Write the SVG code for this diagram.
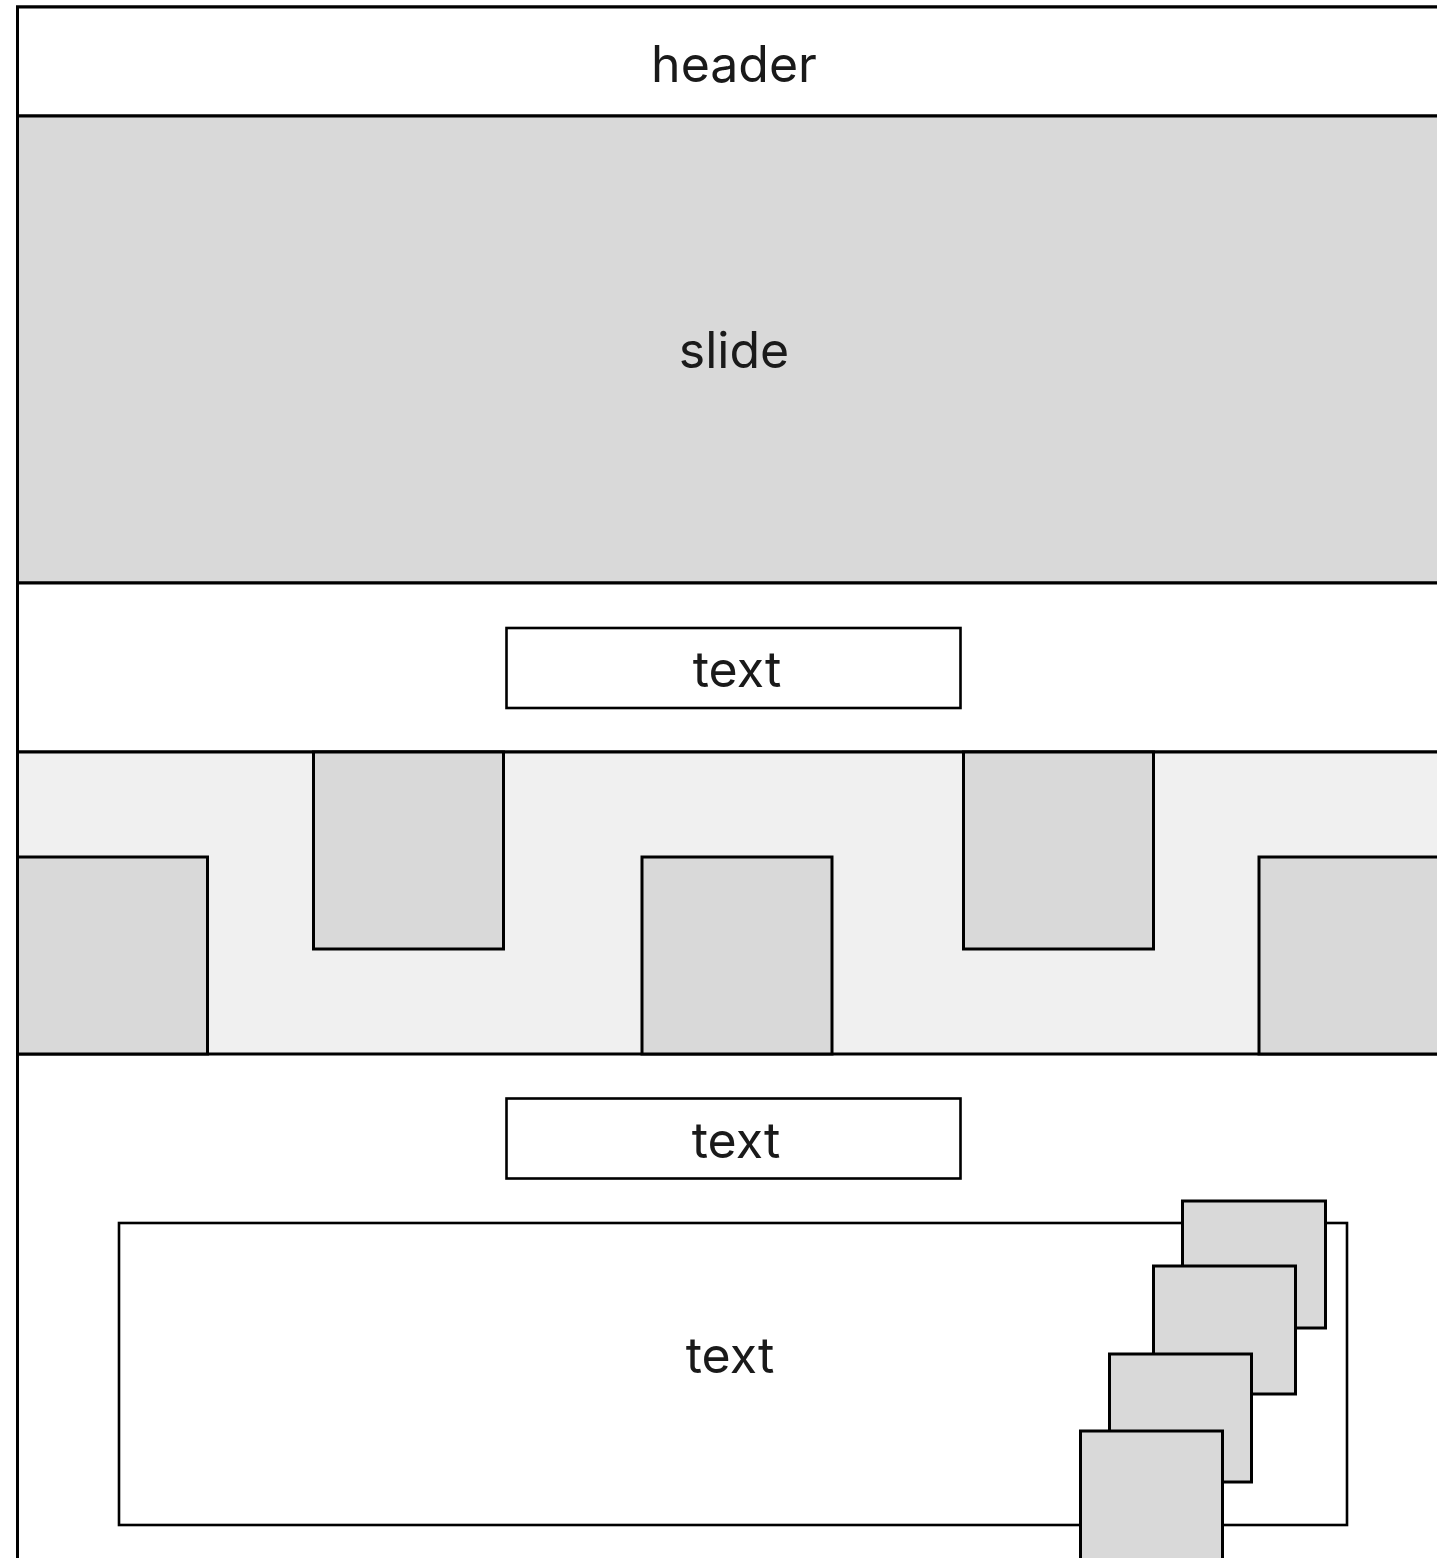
<svg xmlns="http://www.w3.org/2000/svg" width="1437" height="1558" viewBox="0 0 1437 1558">
<style>
.sec{stroke:#000;stroke-width:3}
.w{fill:#fff}
.g{fill:#d9d9d9}
.lg{fill:#f0f0f0}
.box{fill:#fff;stroke:#000;stroke-width:2.6}
.tile{fill:#d9d9d9;stroke:#000;stroke-width:3}
.lbl{font-family:Inter,"Liberation Sans",sans-serif;font-size:50px;fill:#1a1a1a;text-anchor:middle}
</style>
<rect x="0" y="0" width="1437" height="1558" fill="#fff"/>
<g id="frame">
<rect class="sec w" x="17.5" y="7" width="1440" height="1570"/>
</g>
<g id="header">
<rect class="sec w" x="17.5" y="7" width="1440" height="109"/>
<text class="lbl" x="734" y="82">header</text>
</g>
<g id="slide">
<rect class="sec g" x="17.5" y="116" width="1440" height="467"/>
<text class="lbl" x="734" y="368">slide</text>
</g>
<g id="section-text-1">
<rect class="sec w" x="17.5" y="583" width="1440" height="169"/>
<rect class="box" x="506.5" y="628" width="454" height="80"/>
<text class="lbl" x="737" y="687">text</text>
</g>
<g id="gallery">
<rect class="sec lg" x="17.5" y="752" width="1440" height="302"/>
<rect class="tile" x="17.5" y="857" width="190" height="197"/>
<rect class="tile" x="313.5" y="752" width="190" height="197"/>
<rect class="tile" x="642" y="857" width="190" height="197"/>
<rect class="tile" x="963.5" y="752" width="190" height="197"/>
<rect class="tile" x="1259" y="857" width="200" height="197"/>
</g>
<g id="section-bottom">
<rect class="box" x="506.5" y="1098.5" width="454" height="80"/>
<text class="lbl" x="736" y="1158">text</text>
</g>
<g id="content">
<rect class="box" x="119" y="1223" width="1228" height="302"/>
<text class="lbl" x="730" y="1373">text</text>
</g>
<g id="stack">
<rect class="tile" x="1182.5" y="1201" width="143" height="127"/>
<rect class="tile" x="1153.5" y="1266" width="142" height="128"/>
<rect class="tile" x="1109.5" y="1354" width="142" height="128"/>
<rect class="tile" x="1080.5" y="1431" width="142" height="140"/>
</g>
<g id="connectors"></g>
</svg>
